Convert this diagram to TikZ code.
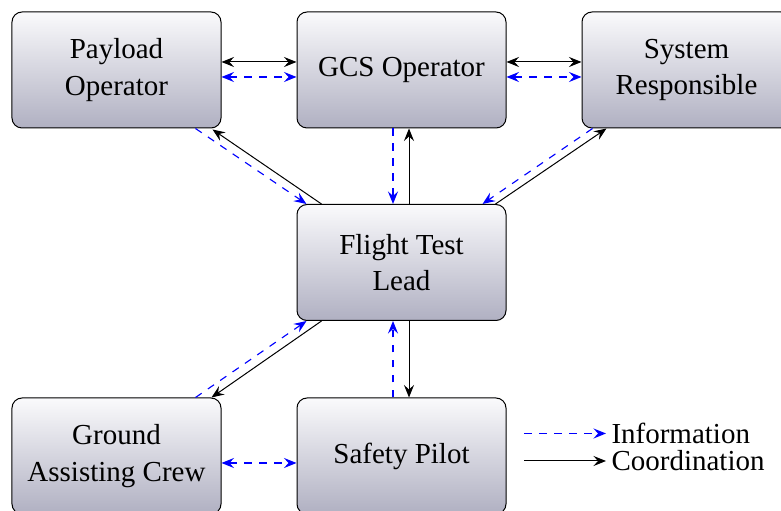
\documentclass[tikz,border=0pt]{standalone}
\usepackage{fontspec}
\setmainfont{Liberation Serif}
\usetikzlibrary{arrows.meta,calc}
\definecolor{boxbot}{RGB}{176,176,194}
\definecolor{boxtop}{RGB}{250,250,252}
\tikzset{
  tip/.tip={Stealth[length=5pt,width=4pt,inset=1.8pt]},
  box/.style={draw=black, rounded corners=4pt, top color=boxtop, bottom color=boxbot,
    minimum width=83.6pt, minimum height=46.4pt, align=center, inner sep=0pt,
    font=\fontsize{11.6}{14.5}\selectfont},
  info/.style={blue, dashed, line width=0.45pt, -tip},
  infob/.style={blue, dashed, line width=0.45pt, tip-tip},
  coord/.style={black, line width=0.4pt, -tip},
  coordb/.style={black, line width=0.4pt, tip-tip},
  legtext/.style={font=\fontsize{11.6}{14.5}\selectfont, inner sep=2pt, anchor=west}
}
\begin{document}
\begin{tikzpicture}[x=0.4pt,y=-0.4pt]
\useasboundingbox (0,0) rectangle (781,511);
\node[box] (PO) at (116.5,70) {Payload\\Operator};
\node[box] (GCS) at (401.5,70) {GCS Operator};
\node[box] (SR) at (686.5,70) {System\\Responsible};
\node[box] (FTL) at (401.5,262.5) {Flight Test\\Lead};
\node[box] (GAC) at (116.5,456) {Ground\\Assisting Crew};
\node[box] (SP) at (401.5,456) {Safety Pilot};

% horizontal top row
\draw[coordb] ($(PO.east)+(0,-8)$) -- ($(GCS.west)+(0,-8)$);
\draw[infob] ($(PO.east)+(0,7)$) -- ($(GCS.west)+(0,7)$);
\draw[coordb] ($(GCS.east)+(0,-8)$) -- ($(SR.west)+(0,-8)$);
\draw[infob] ($(GCS.east)+(0,7)$) -- ($(SR.west)+(0,7)$);

% vertical
\draw[info] ($(GCS.south)+(-8.5,0)$) -- ($(FTL.north)+(-8.5,0)$);
\draw[coord] ($(FTL.north)+(7.5,0)$) -- ($(GCS.south)+(7.5,0)$);
\draw[coord] ($(FTL.south)+(7.5,0)$) -- ($(SP.north)+(7.5,0)$);
\draw[info] ($(SP.north)+(-8.5,0)$) -- ($(FTL.south)+(-8.5,0)$);

% diagonals
\draw[info] ($(PO.south east)+(-26,0)$) -- ($(FTL.north west)+(10,0)$);
\draw[coord] ($(FTL.north west)+(25,0)$) -- ($(PO.south east)+(-9,1)$);
\draw[coord] ($(FTL.north east)+(-11,0)$) -- ($(SR.south west)+(25,0)$);
\draw[info] ($(SR.south west)+(11,0)$) -- ($(FTL.north east)+(-24,0)$);
\draw[coord] ($(FTL.south west)+(25,0)$) -- ($(GAC.north east)+(-10,0)$);
\draw[info] ($(GAC.north east)+(-26,0)$) -- ($(FTL.south west)+(10,0)$);

% bottom horizontal
\draw[infob] ($(GAC.east)+(0,7)$) -- ($(SP.west)+(0,7)$);

% legend
\node[legtext] (linfo) at (606,433.5) {Information};
\node[legtext] (lcoord) at (606,461) {Coordination};
\coordinate (li) at (524,433.5);
\coordinate (lc) at (524,461);
\draw[info] (li) -- (linfo.west);
\draw[coord] (lc) -- (lcoord.west);
\end{tikzpicture}
\end{document}
